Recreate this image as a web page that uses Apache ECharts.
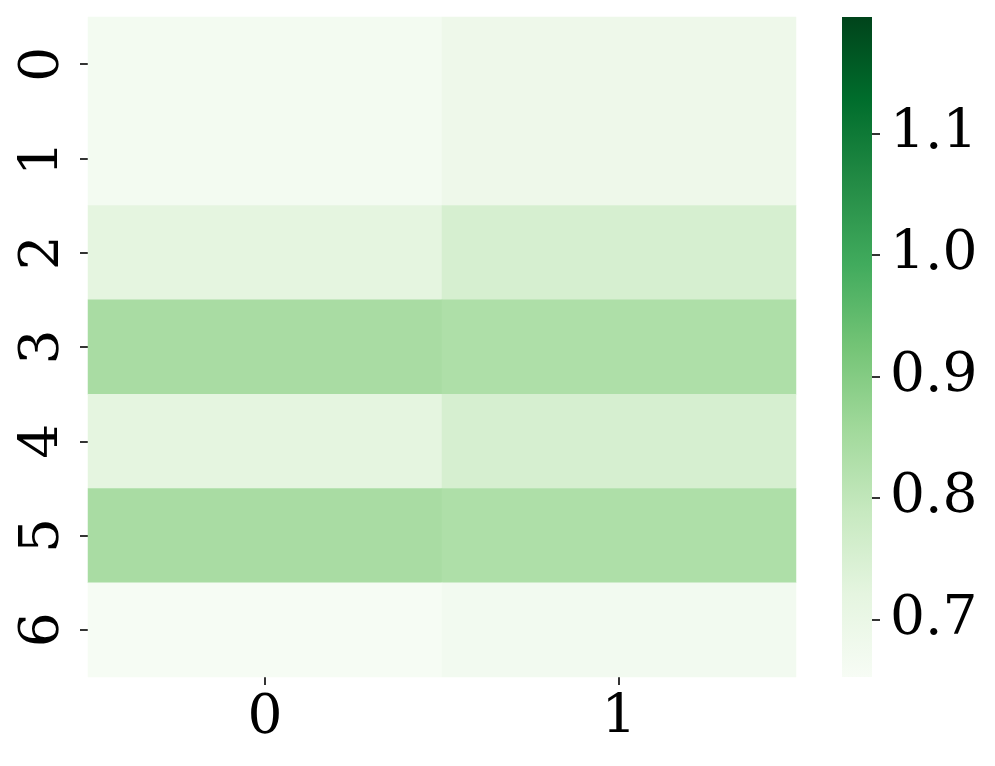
<!DOCTYPE html>
<html>
<head>
<meta charset="utf-8">
<script src="https://cdn.jsdelivr.net/npm/echarts@6/dist/echarts.min.js"></script>
<style>html,body{margin:0;padding:0;background:#fff;}#c{width:995px;height:766px;}</style>
</head>
<body>
<div id="c"></div>
<script>
// Data
const xCategories = ['0', '1'];
const yCategories = ['0', '1', '2', '3', '4', '5', '6'];
const col0Values = [0.667, 0.667, 0.721, 0.842, 0.721, 0.842, 0.657];
const col1Values = [0.688, 0.688, 0.754, 0.833, 0.754, 0.833, 0.670];
const colorbarTicks = [0.7, 0.8, 0.9, 1.0, 1.1];
const vMin = 0.6527;
const vMax = 1.1959;
const greens = ['#f7fcf5', '#e5f5e0', '#c7e9c0', '#a1d99b', '#74c476', '#41ab5d', '#238b45', '#006d2c', '#00441b'];

const heatData = [];
yCategories.forEach((y, i) => {
  heatData.push([0, i, col0Values[i]]);
  heatData.push([1, i, col1Values[i]]);
});

const font = 'DejaVu Serif';
const tickStyle = { color: '#000', width: 1.6 };
const chart = echarts.init(document.getElementById('c'));
chart.setOption({
  animation: false,
  backgroundColor: '#fff',
  grid: [
    { left: 88, top: 17, width: 708, height: 660 },
    { left: 842, top: 17, width: 30, height: 660 }
  ],
  xAxis: [
    {
      gridIndex: 0, type: 'category', data: xCategories,
      axisLine: { show: false },
      axisTick: { show: true, alignWithLabel: true, length: 8, lineStyle: tickStyle },
      axisLabel: { fontFamily: font, fontSize: 55, color: '#000', margin: 14 },
      splitLine: { show: false }
    },
    {
      gridIndex: 1, type: 'category', data: ['cb'], show: false
    }
  ],
  yAxis: [
    {
      gridIndex: 0, type: 'category', data: yCategories, inverse: true,
      axisLine: { show: false },
      axisTick: { show: true, alignWithLabel: true, length: 8, lineStyle: tickStyle },
      axisLabel: { fontFamily: font, fontSize: 55, color: '#000', rotate: 90, margin: 17 },
      splitLine: { show: false }
    },
    {
      gridIndex: 1, type: 'value', position: 'right', min: vMin, max: vMax,
      axisLine: { show: false },
      splitLine: { show: false },
      axisTick: { show: true, length: 8, customValues: colorbarTicks, lineStyle: tickStyle },
      axisLabel: {
        customValues: colorbarTicks, fontFamily: font, fontSize: 55, color: '#000', margin: 18,
        formatter: v => v.toFixed(1)
      }
    }
  ],
  visualMap: {
    show: false, type: 'continuous', seriesIndex: 0, dimension: 2,
    min: vMin, max: vMax, inRange: { color: greens }
  },
  series: [
    {
      type: 'heatmap', xAxisIndex: 0, yAxisIndex: 0, data: heatData,
      itemStyle: { borderWidth: 0 },
      emphasis: { disabled: true }
    },
    {
      type: 'bar', xAxisIndex: 1, yAxisIndex: 1, stack: 'cb', data: [vMin],
      barWidth: '100%', itemStyle: { color: 'rgba(0,0,0,0)' }, silent: true
    },
    {
      type: 'bar', xAxisIndex: 1, yAxisIndex: 1, stack: 'cb', data: [vMax - vMin],
      barWidth: '100%', silent: true,
      itemStyle: {
        color: new echarts.graphic.LinearGradient(0, 1, 0, 0,
          greens.map((c, i) => ({ offset: i / (greens.length - 1), color: c })))
      }
    }
  ]
});
</script>
</body>
</html>
